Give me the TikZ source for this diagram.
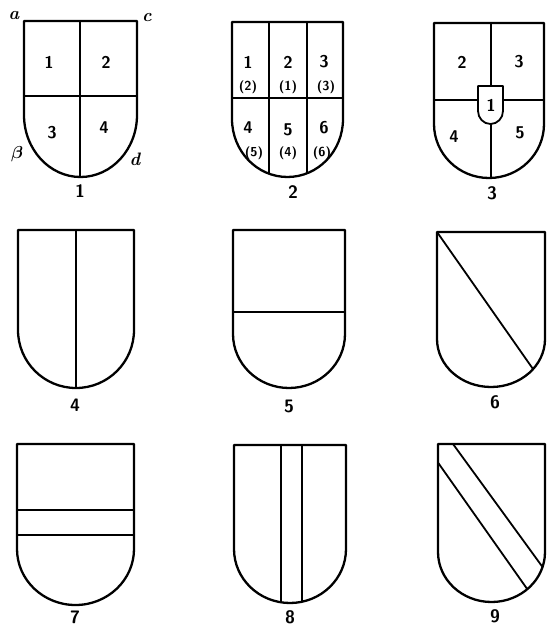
\documentclass[tikz,border=0pt]{standalone}
\usepackage{amsmath,amssymb}
\usepackage{tikz}
\usetikzlibrary{calc,positioning}
\usepackage{xcolor}

% outline of a shield: left, right, top, bottom, depth of the rounded base
\newcommand{\shieldpath}[5]{(#1,#3) -- (#2,#3) -- (#2,{#4-#5})
  .. controls (#2,{#4-0.448*#5}) and ({(#1+#2)/2+0.552*(#2-#1)/2},#4) .. ({(#1+#2)/2},#4)
  .. controls ({(#1+#2)/2-0.552*(#2-#1)/2},#4) and (#1,{#4-0.448*#5}) .. (#1,{#4-#5}) -- cycle}

\begin{document}
\begin{tikzpicture}[x=1pt,y=-1pt,line join=round,
  outer/.style={line width=2.3pt},
  inner/.style={line width=1.8pt},
  num/.style={font=\sffamily\bfseries\fontsize{17}{17}\selectfont},
  snum/.style={font=\sffamily\bfseries\fontsize{13}{13}\selectfont},
  capt/.style={font=\sffamily\bfseries\fontsize{18}{18}\selectfont},
  corner/.style={font=\bfseries\itshape\fontsize{18}{18}\selectfont}]
\useasboundingbox (0,0) rectangle (547,629);

% 1
\begin{scope}
\clip \shieldpath{24}{137}{21}{177}{62};
\draw[inner] (80,0) -- (80,200) (0,96) -- (160,96);
\end{scope}
\draw[outer] \shieldpath{24}{137}{21}{177}{62};
\node[num] (A1) at (49,62) {1};
\node[num] (A2) at (106,62) {2};
\node[num] (A3) at (52,133) {3};
\node[num] (A4) at (104,128) {4};
\node[corner] (Ca) at (14,16) {a};
\node[corner] (Cc) at (147,18) {c};
\node[corner] (Cb) at (17,154) {$\boldsymbol{\beta}$};
\node[corner] (Cd) at (135,159) {d};
\node[capt] (F1) at (80,191) {1};

% 2
\begin{scope}
\clip \shieldpath{232}{343}{22}{177}{58};
\draw[inner] (269,0) -- (269,200) (307,0) -- (307,200) (220,98) -- (360,98);
\end{scope}
\draw[outer] \shieldpath{232}{343}{22}{177}{58};
\node[num] (B1) at (248,62) {1};
\node[num] (B2) at (288,62) {2};
\node[num] (B3) at (324,62) {3};
\node[snum] (B1p) at (248,87) {(2)};
\node[snum] (B2p) at (288,87) {(1)};
\node[snum] (B3p) at (326,87) {(3)};
\node[num] (B4) at (248,128) {4};
\node[num] (B5) at (288,130) {5};
\node[num] (B6) at (324,128) {6};
\node[snum] (B4p) at (254,153) {(5)};
\node[snum] (B5p) at (288,153) {(4)};
\node[snum] (B6p) at (322,153) {(6)};
\node[capt] (F2) at (293,192) {2};

% 3
\begin{scope}
\clip \shieldpath{434}{544}{23}{178}{54};
\draw[inner] (491,0) -- (491,200) (420,100) -- (560,100);
\end{scope}
\draw[outer] \shieldpath{434}{544}{23}{178}{54};
\filldraw[inner,fill=white] \shieldpath{478}{503}{86}{124}{13};
\node[num] (D2) at (462,62) {2};
\node[num] (D3) at (519,62) {3};
\node[num] (D1) at (491,105) {1};
\node[num] (D4) at (454,137) {4};
\node[num] (D5) at (520,133) {5};
\node[capt] (F3) at (492,193) {3};

% 4
\begin{scope}
\clip \shieldpath{18}{134}{230}{388}{58};
\draw[inner] (76,220) -- (76,400);
\end{scope}
\draw[outer] \shieldpath{18}{134}{230}{388}{58};
\node[capt] (F4) at (75,405) {4};

% 5
\begin{scope}
\clip \shieldpath{233}{345}{230}{388}{54};
\draw[inner] (220,312) -- (360,312);
\end{scope}
\draw[outer] \shieldpath{233}{345}{230}{388}{54};
\node[capt] (F5) at (289,406) {5};

% 6
\begin{scope}
\clip \shieldpath{437}{545}{232}{387}{48};
\draw[inner] (437,232) -- ($(437,232)!1.3!(533,369)$);
\end{scope}
\draw[outer] \shieldpath{437}{545}{232}{387}{48};
\node[capt] (F6) at (495,402) {6};

% 7
\begin{scope}
\clip \shieldpath{17}{134}{444}{605}{56};
\draw[inner] (0,510) -- (150,510) (0,535) -- (150,535);
\end{scope}
\draw[outer] \shieldpath{17}{134}{444}{605}{56};
\node[capt] (F7) at (75,617) {7};

% 8
\begin{scope}
\clip \shieldpath{234}{346}{445}{603}{54};
\draw[inner] (281,430) -- (281,620) (302,430) -- (302,620);
\end{scope}
\draw[outer] \shieldpath{234}{346}{445}{603}{54};
\node[capt] (F8) at (290,617) {8};

% 9
\begin{scope}
\clip \shieldpath{438}{545}{444}{602}{50};
\draw[inner] ($(453,444)!-0.2!(544,569)$) -- ($(453,444)!1.3!(544,569)$)
  ($(439,464)!-0.3!(530,593)$) -- ($(439,464)!1.3!(530,593)$);
\end{scope}
\draw[outer] \shieldpath{438}{545}{444}{602}{50};
\node[capt] (F9) at (495,616) {9};
\end{tikzpicture}
\end{document}
